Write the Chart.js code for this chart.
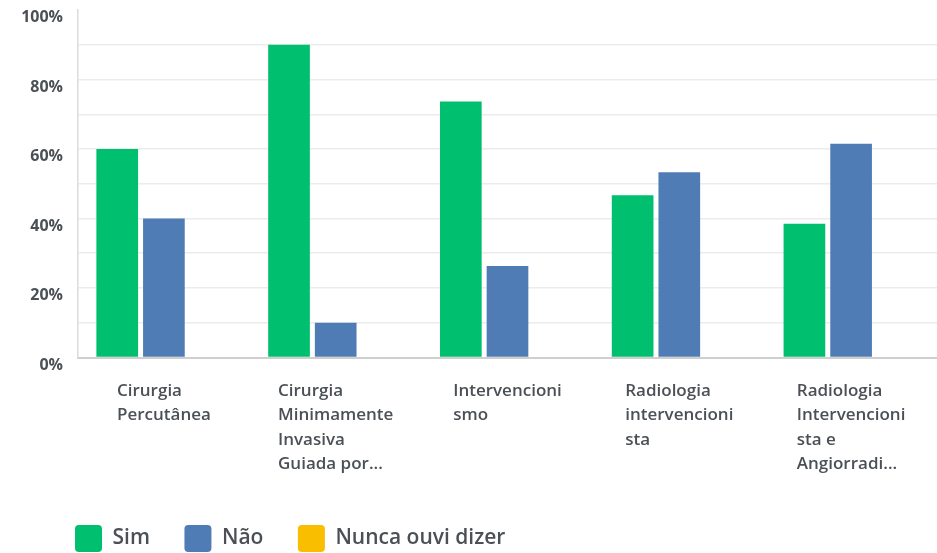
<!DOCTYPE html>
<html>
<head>
<meta charset="utf-8">
<script src="https://cdn.jsdelivr.net/npm/chart.js@4.4.1/dist/chart.umd.min.js"></script>
<style>
  html, body { margin: 0; padding: 0; background: #fff; }
  #wrap { width: 937px; height: 553px; }
</style>
</head>
<body>
<div id="wrap"><canvas id="survey-chart"></canvas></div>
<script>
const categories = [
  ["Cirurgia", "Percutânea"],
  ["Cirurgia", "Minimamente", "Invasiva", "Guiada por..."],
  ["Intervencioni", "smo"],
  ["Radiologia", "intervencioni", "sta"],
  ["Radiologia", "Intervencioni", "sta e", "Angiorradi..."]
];
const simValues = [60, 90, 73.7, 46.7, 38.5];
const naoValues = [40, 10, 26.3, 53.3, 61.5];
const nuncaValues = [0, 0, 0, 0, 0];
const yTickLabels = { 0: "0%", 20: "20%", 40: "40%", 60: "60%", 80: "80%", 100: "100%" };

const textColor = "#4b5056";
const labelFont = "600 17px 'Open Sans'";

// draws the wrapped category labels as left-aligned blocks centred on each group
const categoryLabels = {
  id: "categoryLabels",
  afterLayout(chart) {
    // move the legend so its first box lines up under the axis labels
    chart.legend.left = 40.5;
  },
  afterDraw(chart) {
    const ctx = chart.ctx;
    const xScale = chart.scales.x;
    const bottom = chart.chartArea.bottom;
    ctx.save();
    ctx.font = labelFont;
    ctx.fillStyle = textColor;
    ctx.textAlign = "left";
    ctx.textBaseline = "alphabetic";
    categories.forEach((lines, i) => {
      const center = xScale.getPixelForTick(i);
      const maxW = Math.max(...lines.map((l) => ctx.measureText(l).width));
      const left = center - maxW / 2;
      lines.forEach((line, j) => {
        ctx.fillText(line, left, bottom + 38.5 + j * 24.3);
      });
    });
    ctx.restore();
  }
};

const chartData = {
  labels: categories,
  datasets: [
    { label: "Sim", data: simValues, backgroundColor: "#00bf6f" },
    { label: "Não", data: naoValues, backgroundColor: "#507cb6" },
    { label: "Nunca ouvi dizer", data: nuncaValues, backgroundColor: "#f9be00" }
  ]
};

const config = {
  type: "bar",
  data: chartData,
  options: {
    responsive: true,
    maintainAspectRatio: false,
    animation: false,
    layout: { padding: { left: 10, right: 0, top: 10, bottom: -9 } },
    datasets: {
      bar: { categoryPercentage: 0.815, barPercentage: 0.893, borderWidth: 0 }
    },
    plugins: {
      tooltip: { enabled: false },
      legend: {
        position: "bottom",
        align: "start",
        labels: {
          boxWidth: 27,
          boxHeight: 27,
          padding: 34.5,
          useBorderRadius: true,
          borderRadius: 4,
          color: textColor,
          font: { family: "'Open Sans'", size: 21, weight: "600" }
        }
      }
    },
    scales: {
      x: {
        grid: { display: false },
        border: { display: true, color: "#cfcfcf", width: 2 },
        ticks: { color: "transparent" },
        afterFit: (scale) => { scale.height = 133; }
      },
      y: {
        min: 0,
        max: 100,
        grid: {
          drawTicks: false,
          color: (c) => (c.tick && (c.tick.value === 100 || c.tick.value === 0) ? "transparent" : "#ececec"),
          lineWidth: 1.5
        },
        border: { display: true, color: "#dcdcdc", width: 1.5 },
        ticks: {
          stepSize: 10,
          autoSkip: false,
          padding: 15,
          labelOffset: 7.5,
          color: textColor,
          font: { family: "'Open Sans'", size: 16, weight: "700" },
          callback: (value) => (yTickLabels[value] !== undefined ? yTickLabels[value] : "")
        },
        afterFit: (scale) => {
          scale.width = 68;
          scale.paddingTop = 0;
          scale.paddingBottom = 0;
        }
      }
    }
  },
  plugins: [categoryLabels]
};

new Chart(document.getElementById("survey-chart").getContext("2d"), config);
</script>
</body>
</html>
